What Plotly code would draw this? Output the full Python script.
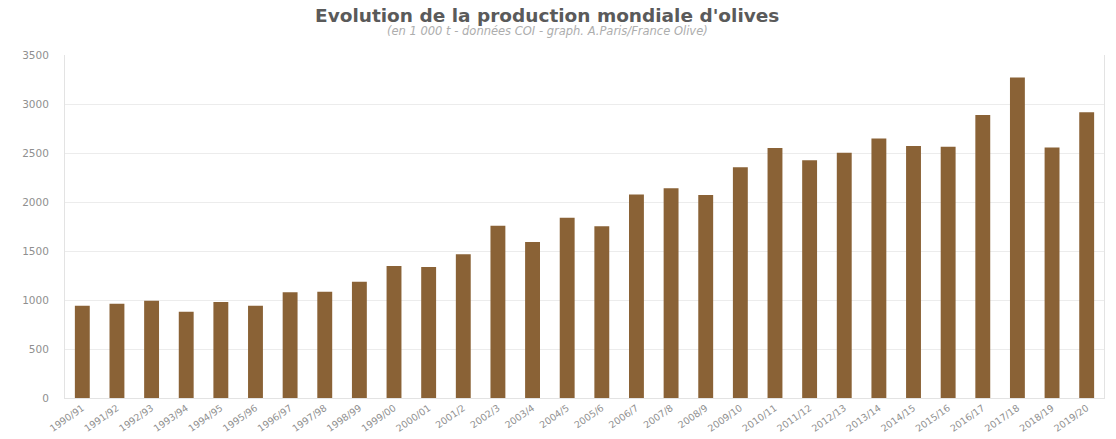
import plotly.graph_objects as go

categories = ["1990/91", "1991/92", "1992/93", "1993/94", "1994/95", "1995/96",
              "1996/97", "1997/98", "1998/99", "1999/00", "2000/01", "2001/2",
              "2002/3", "2003/4", "2004/5", "2005/6", "2006/7", "2007/8",
              "2008/9", "2009/10", "2010/11", "2011/12", "2012/13", "2013/14",
              "2014/15", "2015/16", "2016/17", "2017/18", "2018/19", "2019/20"]
production = [942, 962, 993, 881, 980, 942,
              1078, 1085, 1187, 1347, 1337, 1466,
              1758, 1592, 1840, 1752, 2077, 2140,
              2071, 2354, 2550, 2425, 2502, 2648,
              2571, 2563, 2887, 3270, 2556, 2917]
y_ticks = [0, 500, 1000, 1500, 2000, 2500, 3000, 3500]

title_text = "Evolution de la production mondiale d'olives"
subtitle_text = "(en 1 000 t - données COI - graph. A.Paris/France Olive)"

FONT = "DejaVu Sans, sans-serif"

fig = go.Figure(go.Bar(
    x=categories, y=production,
    marker=dict(color="#8a6236", line=dict(width=0)),
    width=0.43,
))

fig.update_layout(
    width=1116, height=439,
    margin=dict(l=65, r=12, t=55, b=41),
    paper_bgcolor="white", plot_bgcolor="white",
    showlegend=False,
    font=dict(family=FONT, color="#8a8a8a"),
    bargap=0.57,
)
fig.update_yaxes(
    range=[0, 3500], tickvals=y_ticks,
    showgrid=True, gridcolor="#ececec", gridwidth=1,
    showline=True, linecolor="#e3e3e3", linewidth=1, mirror=True,
    zeroline=False, ticks="", tickfont=dict(size=10.5, color="#8f8f8f"),
    ticklabelstandoff=13, automargin=False,
)
fig.update_xaxes(
    tickangle=-35, tickfont=dict(size=9.5, color="#8f8f8f"),
    showline=True, linecolor="#e3e3e3", linewidth=1,
    showgrid=False, ticks="", automargin=False,
)
fig.add_annotation(
    text=title_text, xref="paper", yref="paper", x=0.464, y=1.0, yshift=40,
    showarrow=False, xanchor="center", yanchor="middle",
    font=dict(size=18.5, color="#5a5a5a", family=FONT, weight=600),
)
fig.add_annotation(
    text="<i>" + subtitle_text + "</i>", xref="paper", yref="paper",
    x=0.464, y=1.0, yshift=24,
    showarrow=False, xanchor="center", yanchor="middle",
    font=dict(size=11.5, color="#adadad", family=FONT),
)

fig.write_html("out.html")
